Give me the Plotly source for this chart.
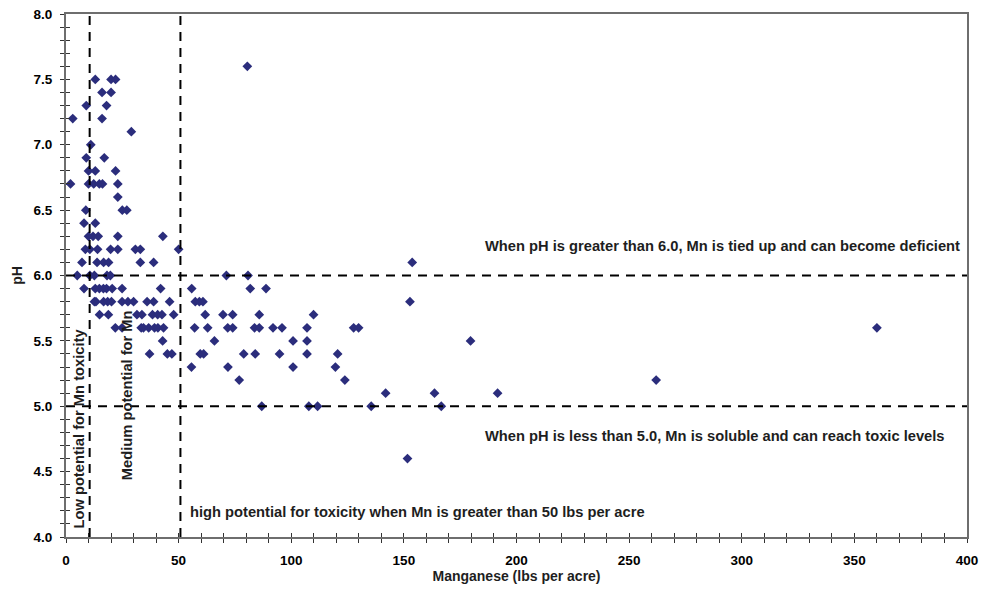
import plotly.graph_objects as go

# Manganese (lbs per acre) and matching soil pH
manganese = [
    80.5,
    13, 20, 22,
    16, 20,
    9, 18,
    3, 16,
    29,
    11,
    9, 17,
    10, 13, 22,
    2, 10, 12.3, 14.8, 16.2, 23,
    23,
    8.8, 25, 27,
    8, 13,
    10, 12, 14.3, 23, 43,
    8.6, 10.6, 14, 19.8, 23, 30.8, 33, 50,
    7.1, 13.8, 16.7, 18.9, 33, 38.9, 153.7,
    5, 10.6, 12.6, 18.2, 19.7, 71.2, 80.8,
    8, 13, 14.8, 16.6, 18, 20.5, 24.9, 42, 55.8, 81.8, 88.8,
    12.6, 13.3, 16.7, 18.5, 20.2, 24.9, 27.5, 30, 36, 38.9, 46, 57.4, 59.2, 60.8, 152.7,
    14.9, 18.8, 31.5, 33.7, 38.4, 40.7, 42.6, 47.8, 61.8, 69.7, 74, 85.8, 109.9,
    21.9, 24.9, 33.4, 34.4, 36.7, 39.3, 40.8, 43.3, 57.1, 62.9, 71.8, 74, 83.7, 85.8, 91.9, 95.9, 107, 127.7, 129.9, 360,
    42.9, 65.9, 100.8, 107, 179.6,
    37.1, 45, 47, 59.6, 61.1, 78.9, 84, 94.8, 107, 120.6,
    55.7, 71.9, 100.8, 119.6,
    76.9, 123.8, 262,
    141.9, 163.6, 191.6,
    86.9, 107.8, 111.7, 135.5, 166.6,
    151.6,
]
ph = [
    7.6,
    7.5, 7.5, 7.5,
    7.4, 7.4,
    7.3, 7.3,
    7.2, 7.2,
    7.1,
    7.0,
    6.9, 6.9,
    6.8, 6.8, 6.8,
    6.7, 6.7, 6.7, 6.7, 6.7, 6.7,
    6.6,
    6.5, 6.5, 6.5,
    6.4, 6.4,
    6.3, 6.3, 6.3, 6.3, 6.3,
    6.2, 6.2, 6.2, 6.2, 6.2, 6.2, 6.2, 6.2,
    6.1, 6.1, 6.1, 6.1, 6.1, 6.1, 6.1,
    6.0, 6.0, 6.0, 6.0, 6.0, 6.0, 6.0,
    5.9, 5.9, 5.9, 5.9, 5.9, 5.9, 5.9, 5.9, 5.9, 5.9, 5.9,
    5.8, 5.8, 5.8, 5.8, 5.8, 5.8, 5.8, 5.8, 5.8, 5.8, 5.8, 5.8, 5.8, 5.8, 5.8,
    5.7, 5.7, 5.7, 5.7, 5.7, 5.7, 5.7, 5.7, 5.7, 5.7, 5.7, 5.7, 5.7,
    5.6, 5.6, 5.6, 5.6, 5.6, 5.6, 5.6, 5.6, 5.6, 5.6, 5.6, 5.6, 5.6, 5.6, 5.6, 5.6, 5.6, 5.6, 5.6, 5.6,
    5.5, 5.5, 5.5, 5.5, 5.5,
    5.4, 5.4, 5.4, 5.4, 5.4, 5.4, 5.4, 5.4, 5.4, 5.4,
    5.3, 5.3, 5.3, 5.3,
    5.2, 5.2, 5.2,
    5.1, 5.1, 5.1,
    5.0, 5.0, 5.0, 5.0, 5.0,
    4.6,
]

mn_thresholds = [10.5, 50.8]      # vertical dashed lines
ph_thresholds = [6.0, 5.0]        # horizontal dashed lines
x_range = [0, 400]
y_range = [4.0, 8.0]

FONT = "Liberation Sans, Arial, sans-serif"
AXIS_COL = "#6e6e6e"
MARK_COL = "#2b2d7c"

fig = go.Figure()
fig.add_trace(go.Scatter(
    x=manganese, y=ph, mode="markers",
    marker=dict(symbol="diamond", size=7.5, color=MARK_COL, line=dict(width=0)),
    showlegend=False, hoverinfo="x+y",
))
# dummy trace for overlay axes (inner half of crossing ticks)
fig.add_trace(go.Scatter(x=[None], y=[None], xaxis="x2", yaxis="y2",
                         showlegend=False, hoverinfo="skip"))

for xv in mn_thresholds:
    fig.add_shape(type="line", xref="x", yref="y", x0=xv, x1=xv,
                  y0=y_range[0], y1=y_range[1],
                  line=dict(color="black", width=2, dash="9px,7px"))
for yv in ph_thresholds:
    fig.add_shape(type="line", xref="x", yref="y", x0=x_range[0], x1=x_range[1],
                  y0=yv, y1=yv,
                  line=dict(color="black", width=2, dash="9px,7px"))

tfont = dict(family=FONT, size=14.7, color="#1e1e1e", weight="bold")
fig.add_annotation(x=185.0, y=6.225, xref="x", yref="y", xanchor="left", yanchor="middle",
                   text="When pH is greater than 6.0, Mn is tied up and can become deficient",
                   showarrow=False, font=tfont)
fig.add_annotation(x=185.0, y=4.77, xref="x", yref="y", xanchor="left", yanchor="middle",
                   text="When pH is less than 5.0, Mn is soluble and can reach toxic levels",
                   showarrow=False, font=tfont)
fig.add_annotation(x=54.3, y=4.19, xref="x", yref="y", xanchor="left", yanchor="middle",
                   text="high potential for toxicity when Mn is greater than 50 lbs per acre",
                   showarrow=False, font=tfont)
fig.add_annotation(x=5.8, y=4.05, xref="x", yref="y", xanchor="center", yanchor="bottom",
                   textangle=-90, text="Low potential for Mn toxicity",
                   showarrow=False, font=tfont)
fig.add_annotation(x=27.1, y=4.42, xref="x", yref="y", xanchor="center", yanchor="bottom",
                   textangle=-90, text="Medium potential for Mn",
                   showarrow=False, font=tfont)

tickfont = dict(family=FONT, size=13.5, color="black", weight="bold")
titlefont = dict(family=FONT, size=14, color="#1e1e1e", weight="bold")
# page body keeps an 8px default margin, so the figure is sized to fit inside it
fig.update_layout(
    width=979, height=586,
    margin=dict(l=58, r=20, t=6, b=57, autoexpand=False),
    paper_bgcolor="white", plot_bgcolor="white",
    xaxis=dict(
        range=x_range, dtick=50, tick0=0, showgrid=False, zeroline=False,
        showline=True, linecolor=AXIS_COL, linewidth=2, mirror=True,
        ticks="outside", ticklen=4, tickwidth=1, tickcolor="#333",
        minor=dict(dtick=10, ticks="outside", ticklen=4, tickwidth=1, tickcolor="#333"),
        tickfont=tickfont, tickformat="d", ticklabelstandoff=6,
        ticklabeloverflow="allow",
        automargin=False,
        title=dict(text="Manganese (lbs per acre)", font=titlefont, standoff=4),
    ),
    yaxis=dict(
        range=y_range, dtick=0.5, tick0=4, showgrid=False, zeroline=False,
        showline=True, linecolor=AXIS_COL, linewidth=2, mirror=True,
        ticks="outside", ticklen=4, tickwidth=1, tickcolor="#333",
        minor=dict(dtick=0.1, ticks="outside", ticklen=4, tickwidth=1, tickcolor="#333"),
        tickfont=tickfont, tickformat=".1f", ticklabelstandoff=5,
        ticklabeloverflow="allow",
        automargin=False,
        title=dict(text="pH", font=titlefont, standoff=8),
    ),
    xaxis2=dict(
        overlaying="x", matches="x", range=x_range, dtick=10, tick0=0,
        showgrid=False, zeroline=False, showline=False, showticklabels=False,
        ticks="inside", ticklen=4, tickwidth=1, tickcolor="#333", anchor="y2",
        automargin=False,
    ),
    yaxis2=dict(
        overlaying="y", matches="y", range=y_range, dtick=0.1, tick0=4,
        showgrid=False, zeroline=False, showline=False, showticklabels=False,
        ticks="inside", ticklen=4, tickwidth=1, tickcolor="#333", anchor="x2",
        automargin=False,
    ),
)

fig.write_html("out.html")
